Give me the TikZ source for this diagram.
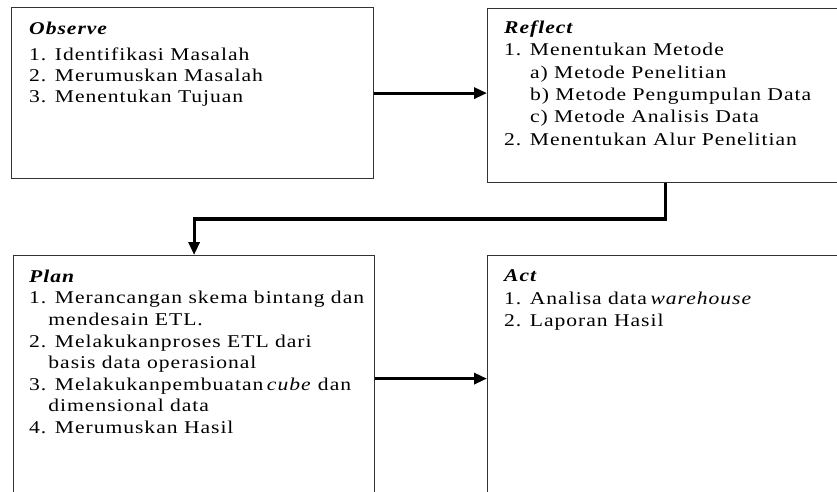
\documentclass[tikz,border=0pt]{standalone}
\usepackage{fontspec}
\setmainfont{Liberation Serif}
\newfontfamily\boxfont{Liberation Serif}[LetterSpace=4.5]
\usetikzlibrary{arrows.meta,calc}
\begin{document}
\begin{tikzpicture}[x=1pt,y=-1pt,
  box/.style={draw=black!80,line width=1.2pt,rectangle,inner sep=0pt,anchor=north west},
  flow/.style={line width=3.2pt,-{Triangle[length=13pt,width=11pt]}},
  txt/.style={anchor=north west,inner sep=0pt,align=left,text=black,xscale=1.2,transform shape,
    font=\boxfont\fontsize{18}{#1}\selectfont},
  txt/.default=21.6]
\useasboundingbox (0,0) rectangle (837,491);
\clip (0,0) rectangle (837,491);
\node[box,minimum width=362pt,minimum height=171pt] (obs) at (11,7) {};
\node[box,minimum width=356pt,minimum height=174pt] (ref) at (487,8) {};
\node[box,minimum width=361pt,minimum height=246pt] (plan) at (13,255) {};
\node[box,minimum width=360pt,minimum height=246pt] (act) at (487,255) {};
\node[txt=21] (obst) at (29,21.5) {\textbf{\textit{Observe}}\\[5pt]
1. Identifikasi Masalah\\
2. Merumuskan Masalah\\
3. Menentukan Tujuan};
\node[txt=22.4] (reft) at (504,20.5) {\textbf{\textit{Reflect}}\\
1. Menentukan Metode\\
\hspace*{21.5pt}a) Metode Penelitian\\
\hspace*{21.5pt}b) Metode Pengumpulan Data\\
\hspace*{21.5pt}c) Metode Analisis Data\\
2. Menentukan Alur Penelitian};
\node[txt=21.6] (plant) at (29,269.5) {\textbf{\textit{Plan}}\\
1. Merancangan skema bintang dan\\
\hspace*{16pt}mendesain ETL.\\
2. Melakukanproses ETL dari\\
\hspace*{16pt}basis data operasional\\
3. Melakukanpembuatan\,\textit{cube} dan\\
\hspace*{16pt}dimensional data\\
4. Merumuskan Hasil};
\node[txt=22.6] (actt) at (504,269.5) {\textbf{\textit{Act}}\\
1. Analisa data\,\textit{warehouse}\\
2. Laporan Hasil};
\coordinate (bend) at ($(plan.north)+(0,-36)$);
\draw[flow] (obs.east) -- (obs.east -| ref.west);
\draw[flow] (ref.south) |- (bend) -- (plan.north);
\draw[flow] (plan.east) -- (plan.east -| act.west);
\end{tikzpicture}
\end{document}
